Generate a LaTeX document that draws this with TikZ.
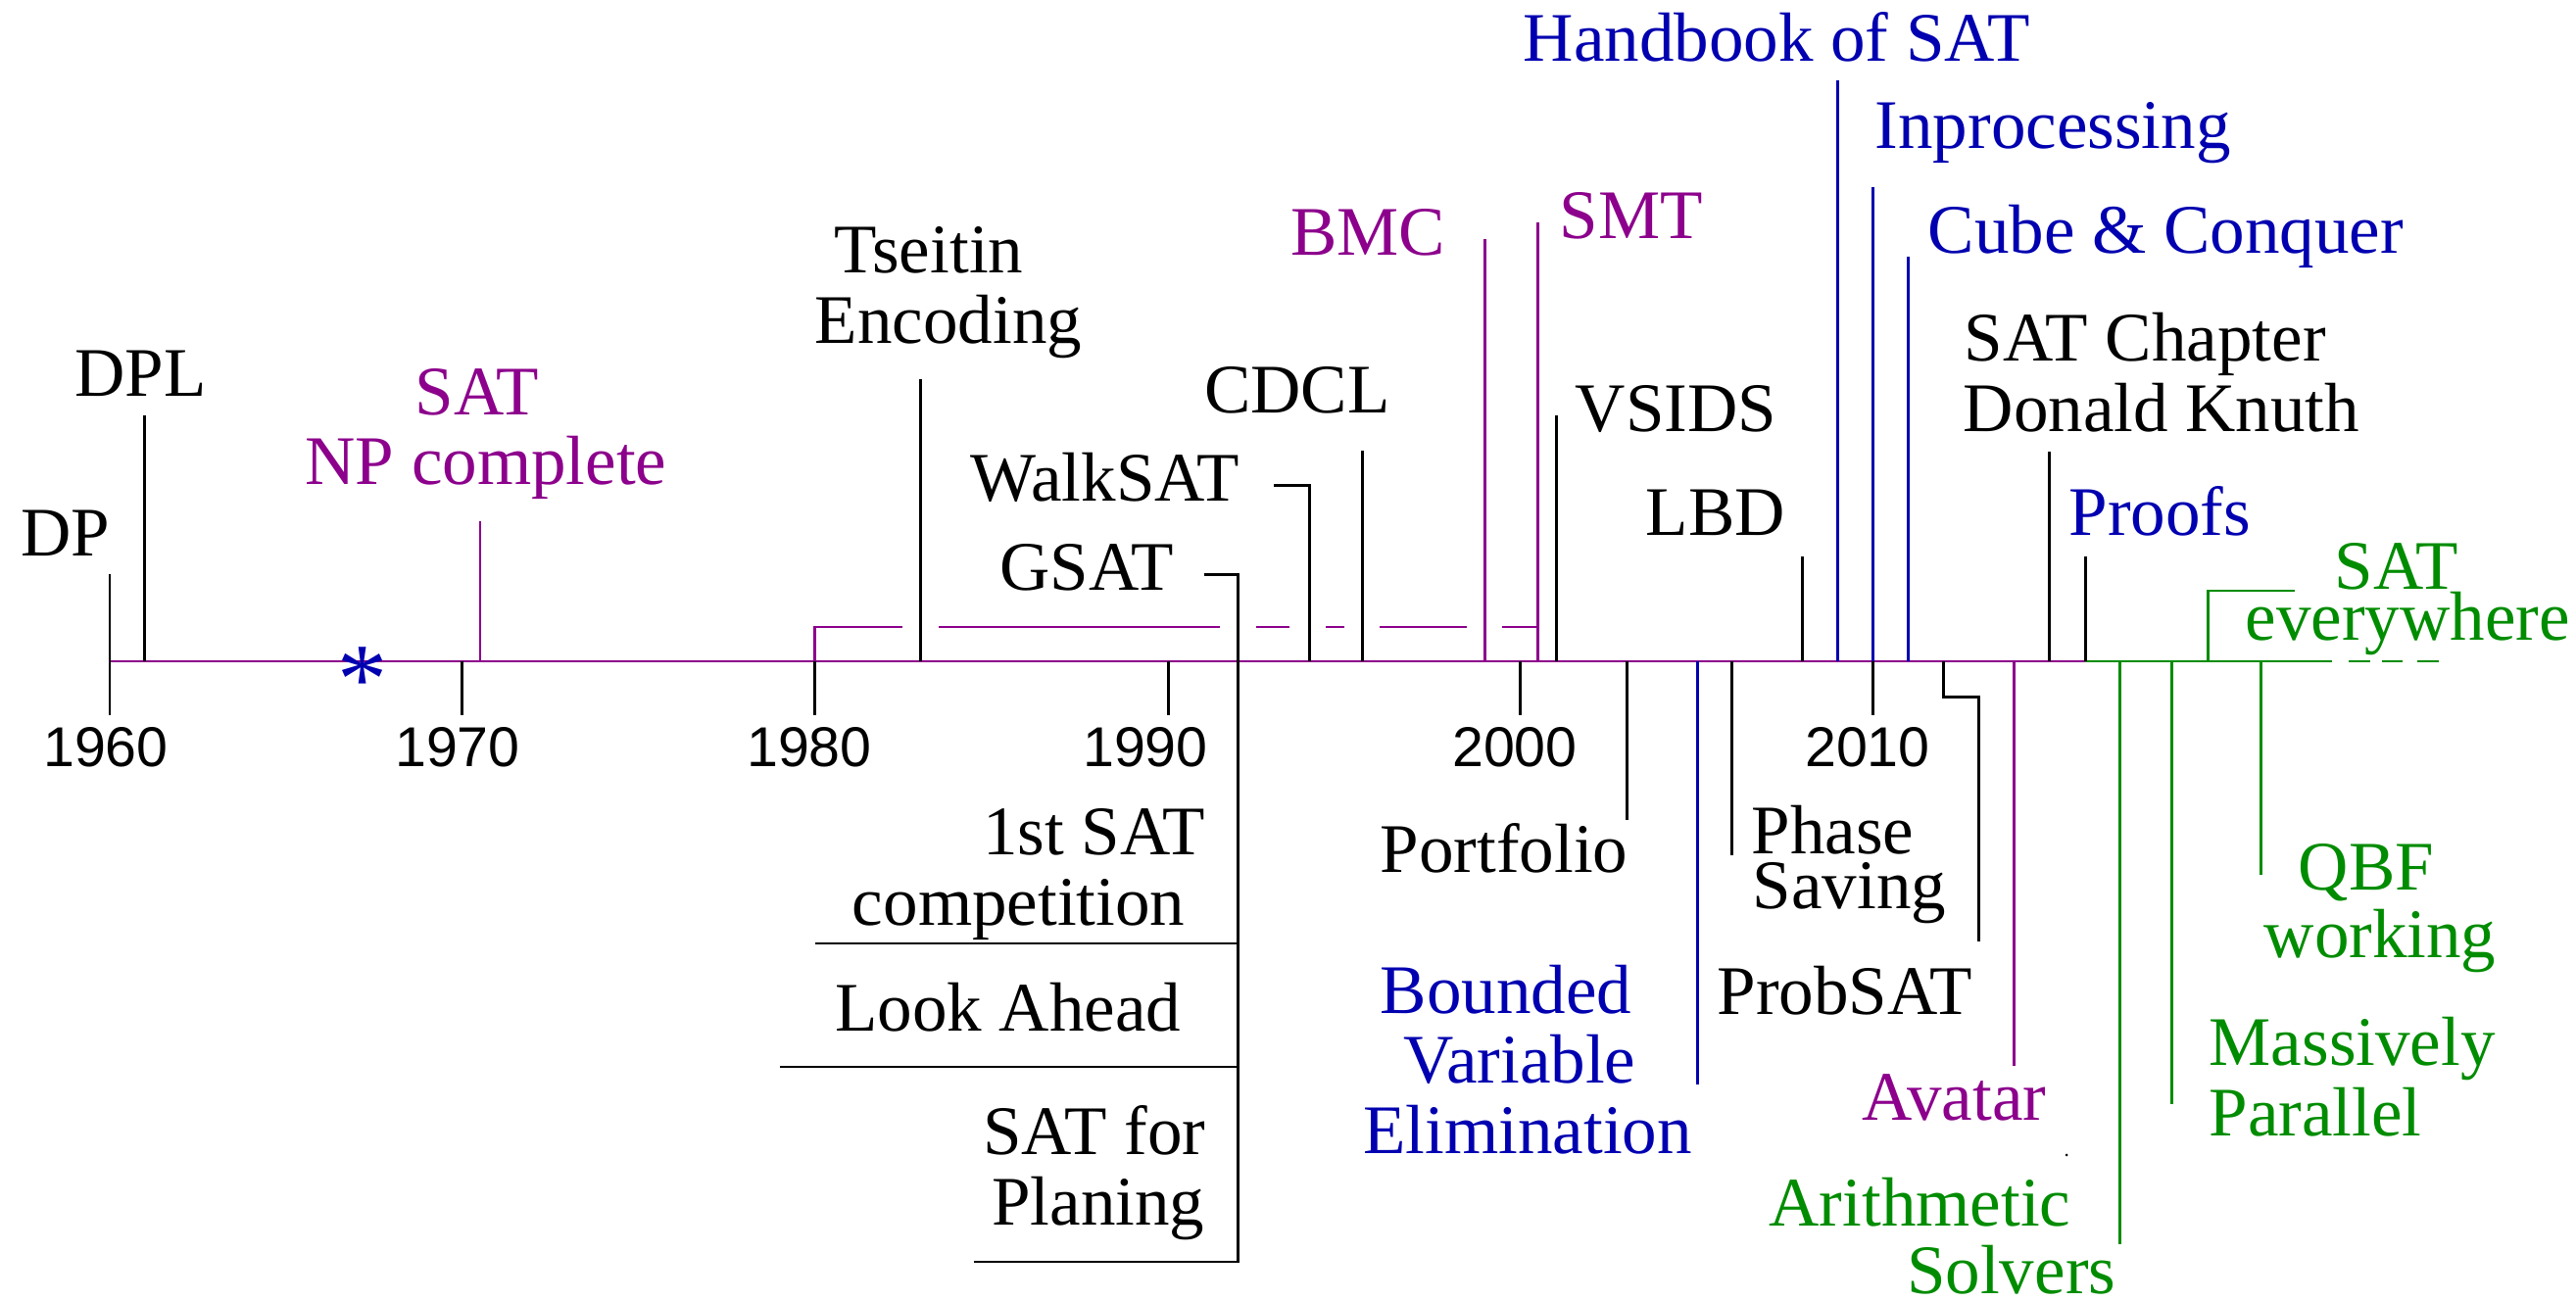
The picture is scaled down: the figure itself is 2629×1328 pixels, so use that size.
\documentclass[tikz,border=0pt]{standalone}
\usepackage{fontspec}
\setmainfont{Liberation Serif}
\newfontfamily\helv{Liberation Sans}
\definecolor{mag}{RGB}{140,0,140}
\definecolor{dblue}{RGB}{0,0,176}
\definecolor{dgreen}{RGB}{0,140,0}
\tikzset{
  lbl/.style={inner sep=0pt, font=\fontsize{20.2}{20.2}\selectfont},
  yr/.style={inner sep=0pt, anchor=base, font=\helv\fontsize{16.3}{16}\selectfont},
  ln/.style={line width=0.85pt},
}
\begin{document}
\begin{tikzpicture}[x=0.01cm, y=-0.01cm]
\useasboundingbox (0,0) rectangle (2629,1328);
% ---------------- timeline
\draw[ln, mag] (112,675) -- (2128,675);
\draw[ln, dgreen] (2128,675) -- (2380,675);
\draw[ln, dgreen] (2397,675) -- (2419,675) (2431,675) -- (2452,675) (2467,675) -- (2489,675);
% year ticks
\draw[ln] (112,586.5) -- (112,730);
\foreach \x in {471.4,831,1192,1551,1911} \draw[ln] (\x,675) -- (\x,730);
\node[yr] (y1960) at (108,783) {1960};
\node[yr] (y1970) at (467,783) {1970};
\node[yr] (y1980) at (826,783) {1980};
\node[yr] (y1990) at (1169,783) {1990};
\node[yr] (y2000) at (1546,783) {2000};
\node[yr] (y2010) at (1906,783) {2010};
% asterisk
\node[inner sep=0pt, anchor=base, text=dblue, font=\fontsize{29}{29}\selectfont] (star) at (370,728) {*};
% ---------------- events above
\draw[ln] (147.6,423.7) -- (147.6,675);
\draw[ln, mag] (490,532) -- (490,675);
\draw[ln] (939.5,387) -- (939.5,675);
\draw[ln] (1390,460) -- (1390,675);
\draw[ln] (1300,495.6) -- (1336,495.6) -- (1336,675);
\draw[ln] (1228.6,586.5) -- (1263.4,586.5) -- (1263.4,1288) -- (994,1288);
\draw[ln] (1263.4,963) -- (832,963);
\draw[ln] (1263.4,1089) -- (796,1089);
\draw[ln, mag] (1515,244) -- (1515,675);
\draw[ln, mag] (1569,227) -- (1569,675);
\draw[ln, mag] (831,675) -- (831,640) -- (921,640);
\draw[ln, mag] (958,640) -- (1245,640) (1282,640) -- (1316,640) (1353,640) -- (1372,640)
                (1408,640) -- (1497,640) (1533,640) -- (1569,640);
\draw[ln] (1588,424) -- (1588,675);
\draw[ln] (1839.5,568.5) -- (1839.5,675);
\draw[ln, dblue] (1875,82.5) -- (1875,675);
\draw[ln, dblue] (1911,191) -- (1911,675);
\draw[ln, dblue] (1947,262) -- (1947,675);
\draw[ln] (2091,461) -- (2091,675);
\draw[ln] (2128,568.5) -- (2128,675);
\draw[ln, dgreen] (2253,675) -- (2253,603) -- (2342,603);
% ---------------- events below
\draw[ln] (1660,675) -- (1660,837);
\draw[ln, dblue] (1732,675) -- (1732,1107.5);
\draw[ln] (1767.5,675) -- (1767.5,873);
\draw[ln] (1983,675) -- (1983,711.6) -- (2019.5,711.6) -- (2019.5,961.5);
\draw[ln, mag] (2055,675) -- (2055,1088);
\draw[ln, dgreen] (2163,675) -- (2163,1270);
\draw[ln, dgreen] (2216.5,675) -- (2216.5,1127);
\draw[ln, dgreen] (2307,675) -- (2307,893);
\fill (2109,1179) circle (1.5);
% ---------------- labels above
\node[lbl, anchor=base east] (dp) at (113,568) {DP};
\node[lbl, anchor=base] (dpl) at (143.5,405) {DPL};
\node[lbl, anchor=base, text=mag] (sat1) at (487,424) {SAT};
\node[lbl, anchor=base, text=mag] (np) at (496,495) {NP complete};
\node[lbl, anchor=base] (tse1) at (948,279) {Tseitin};
\node[lbl, anchor=base] (tse2) at (968,351) {Encoding};
\node[lbl, anchor=base] (cdcl) at (1324,422) {CDCL};
\node[lbl, anchor=base east] (walk) at (1266,512) {WalkSAT};
\node[lbl, anchor=base east] (gsat) at (1199,603) {GSAT};
\node[lbl, anchor=base east, text=mag] (bmc) at (1476,261) {BMC};
\node[lbl, anchor=base west, text=mag] (smt) at (1591,244) {SMT};
\node[lbl, anchor=base west] (vsids) at (1607,440.6) {VSIDS};
\node[lbl, anchor=base west] (lbd) at (1679,547) {LBD};
\node[lbl, anchor=base west, text=dblue] (hb) at (1554,63) {Handbook of SAT};
\node[lbl, anchor=base west, text=dblue] (inp) at (1913,151.5) {Inprocessing};
\node[lbl, anchor=base west, text=dblue] (cube) at (1967,259) {Cube \& Conquer};
\node[lbl, anchor=base west] (knuth1) at (2004,368.7) {SAT Chapter};
\node[lbl, anchor=base west] (knuth2) at (2003,440.6) {Donald Knuth};
\node[lbl, anchor=base west, text=dblue] (proofs) at (2111,547) {Proofs};
\node[lbl, anchor=base west, text=dgreen] (every1) at (2382,602) {SAT};
\node[lbl, anchor=base west, text=dgreen] (every2) at (2291,654) {everywhere};
% ---------------- labels below
\node[lbl, anchor=base east] (comp1) at (1231,873) {1st SAT};
\node[lbl, anchor=base east] (comp2) at (1210,945) {competition};
\node[lbl, anchor=base east] (look) at (1206,1053) {Look Ahead};
\node[lbl, anchor=base east] (plan1) at (1231,1179) {SAT for};
\node[lbl, anchor=base east] (plan2) at (1230,1250.5) {Planing};
\node[lbl, anchor=base west] (port) at (1408,891) {Portfolio};
\node[lbl, anchor=base, text=dblue] (bve1) at (1537,1034.5) {Bounded};
\node[lbl, anchor=base, text=dblue] (bve2) at (1551,1106) {Variable};
\node[lbl, anchor=base, text=dblue] (bve3) at (1559,1177.6) {Elimination};
\node[lbl, anchor=base west] (phase1) at (1787,871.7) {Phase};
\node[lbl, anchor=base west] (phase2) at (1788,928) {Saving};
\node[lbl, anchor=base west] (prob) at (1752,1035.6) {ProbSAT};
\node[lbl, anchor=base east, text=mag] (avatar) at (2089,1143) {Avatar};
\node[lbl, anchor=base east, text=dgreen] (arith1) at (2114,1251.7) {Arithmetic};
\node[lbl, anchor=base east, text=dgreen] (arith2) at (2160,1320.7) {Solvers};
\node[lbl, anchor=base west, text=dgreen] (qbf1) at (2345,909) {QBF};
\node[lbl, anchor=base west, text=dgreen] (qbf2) at (2310,978) {working};
\node[lbl, anchor=base west, text=dgreen] (mp1) at (2254,1088) {Massively};
\node[lbl, anchor=base west, text=dgreen] (mp2) at (2254,1159.6) {Parallel};
\end{tikzpicture}
\end{document}
